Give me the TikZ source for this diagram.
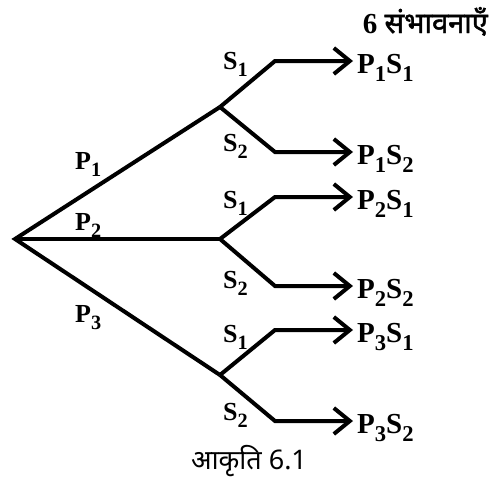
\documentclass[tikz,border=0pt]{standalone}
\usepackage{fontspec}
\setmainfont{Liberation Serif}
\newfontfamily\deva[Script=Devanagari]{Noto Sans}
\newfontfamily\devab[Script=Devanagari,FakeBold=1.6]{Noto Sans}
\usetikzlibrary{arrows.meta,calc}
\newcommand\lsb[1]{\raisebox{-0.3em}{\scalebox{0.78}{#1}}}
\tikzset{
  edge/.style={line width=4pt, line join=miter, line cap=butt},
  arr/.style={edge, -{Straight Barb[length=16pt,width=26pt]}},
  leaf/.style={anchor=base west, inner ysep=0pt, inner xsep=4pt, font=\fontsize{29}{29}\selectfont\bfseries},
  lbl/.style={anchor=base west, inner sep=0pt, font=\fontsize{26}{26}\selectfont\bfseries},
}
\begin{document}
\begin{tikzpicture}[x=1pt,y=-1pt]
\useasboundingbox (0,0) rectangle (500,485);
% branch points
\coordinate (root) at (15,239);
\coordinate (b1) at (220,107);
\coordinate (b2) at (220,239);
\coordinate (b3) at (220,375);
\coordinate (c11) at (275,61);
\coordinate (c12) at (275,152);
\coordinate (c21) at (275,197);
\coordinate (c22) at (275,286);
\coordinate (c31) at (275,330);
\coordinate (c32) at (275,421);
% leaves
\node[leaf] (l11) at (353,73) {P\lsb{1}S\lsb{1}};
\node[leaf] (l12) at (353,164) {P\lsb{1}S\lsb{2}};
\node[leaf] (l21) at (353,209) {P\lsb{2}S\lsb{1}};
\node[leaf] (l22) at (353,298) {P\lsb{2}S\lsb{2}};
\node[leaf] (l31) at (353,342) {P\lsb{3}S\lsb{1}};
\node[leaf] (l32) at (353,433) {P\lsb{3}S\lsb{2}};
% first level
\draw[edge] (b1) -- (root) -- (b3);
\draw[edge] (root) -- (b2);
% second level
\foreach \b/\u/\d/\lu/\ld in {b1/c11/c12/l11/l12, b2/c21/c22/l21/l22, b3/c31/c32/l31/l32}{
  \draw[arr] (\b) -- (\u) -- (\u -| \lu.west);
  \draw[arr] (\b) -- (\d) -- (\d -| \ld.west);
}
% labels
\node[lbl] (p1) at (75,169) {P\lsb{1}};
\node[lbl] (p2) at (75,230) {P\lsb{2}};
\node[lbl] (p3) at (75,322) {P\lsb{3}};
\node[lbl] (s11) at (223,69) {S\lsb{1}};
\node[lbl] (s12) at (223,151) {S\lsb{2}};
\node[lbl] (s21) at (223,208) {S\lsb{1}};
\node[lbl] (s22) at (223,288) {S\lsb{2}};
\node[lbl] (s31) at (223,342) {S\lsb{1}};
\node[lbl] (s32) at (223,420) {S\lsb{2}};
% title and caption
\node[anchor=base east, inner sep=0pt, font=\fontsize{29}{29}\selectfont\bfseries] (title) at (488,33) {6 {\devab संभावनाएँ}};
\node[anchor=base, inner sep=0pt, font=\deva\fontsize{27}{27}\selectfont] (cap) at (249,469) {आकृति 6.1};
\end{tikzpicture}
\end{document}
